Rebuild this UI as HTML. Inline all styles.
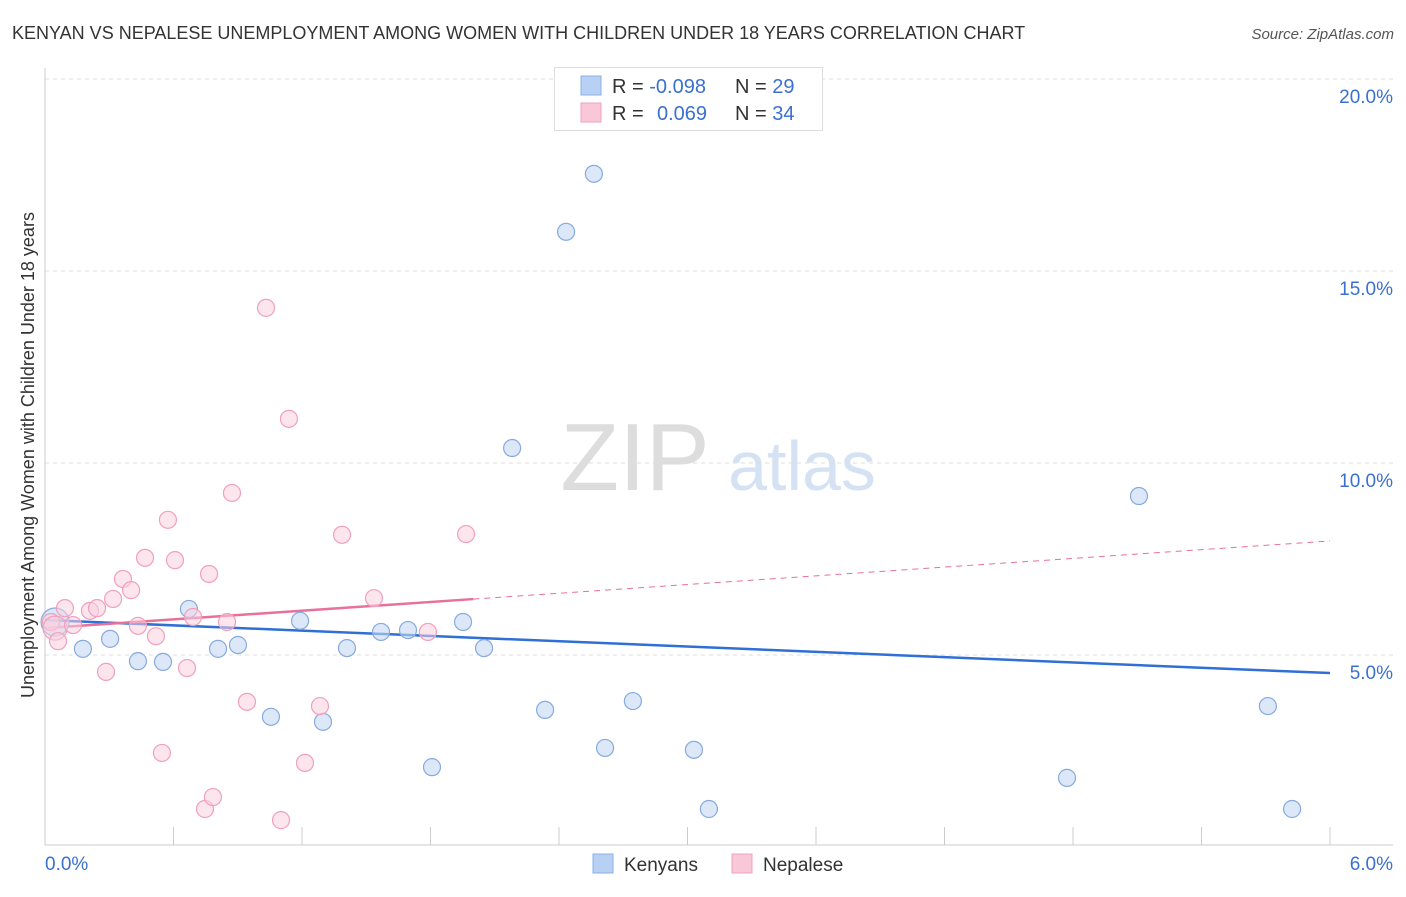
<!DOCTYPE html>
<html><head><meta charset="utf-8">
<style>
body{margin:0;background:#fff;font-family:"Liberation Sans",Arial,sans-serif;}
svg text{font-family:"Liberation Sans",Arial,sans-serif;}
</style></head>
<body>
<svg id="chart" width="1406" height="892" viewBox="0 0 1406 892" xmlns="http://www.w3.org/2000/svg">
<text x="12" y="39" font-size="18" fill="#333">KENYAN VS NEPALESE UNEMPLOYMENT AMONG WOMEN WITH CHILDREN UNDER 18 YEARS CORRELATION CHART</text>
<text x="1394" y="39" font-size="15" fill="#555" font-style="italic" text-anchor="end">Source: ZipAtlas.com</text>
<g>
<text x="635" y="490" font-size="96" fill="#ddd" text-anchor="middle" font-family="Liberation Serif,serif">ZIP</text>
<text x="802" y="490" font-size="70" fill="#d4e2f4" text-anchor="middle">atlas</text>
</g>
<g id="grid"></g>
<g id="axes"></g>
<g id="lines"></g>
<g id="points"></g>
<text transform="translate(34,455) rotate(-90)" font-size="18" fill="#333" text-anchor="middle">Unemployment Among Women with Children Under 18 years</text>
<g>
<rect x="554.5" y="67.5" width="268" height="63" fill="#fff" stroke="#ddd"/>
<rect x="581" y="76" width="20" height="19" fill="#b8d0f4" stroke="#8ab0e4"/>
<rect x="581" y="103" width="20" height="19" fill="#f9c8d8" stroke="#f0a0bc"/>
<text x="612" y="93" font-size="20" fill="#333">R = <tspan fill="#3a70d0">-0.098</tspan><tspan x="735">N = </tspan><tspan fill="#3a70d0">29</tspan></text>
<text x="612" y="120" font-size="20" fill="#333">R = <tspan x="657" fill="#3a70d0">0.069</tspan><tspan x="735">N = </tspan><tspan fill="#3a70d0">34</tspan></text>
</g>
<g>
<rect x="593" y="854" width="20" height="19" fill="#b8d0f4" stroke="#8ab0e4"/>
<text x="624" y="871" font-size="19" fill="#333">Kenyans</text>
<rect x="732" y="854" width="20" height="19" fill="#f9c8d8" stroke="#f0a0bc"/>
<text x="763" y="871" font-size="19" fill="#333">Nepalese</text>
</g>
</svg>
<script>
const blueX=[0.047,0.177,0.304,0.434,0.551,0.672,0.808,0.901,1.055,1.191,1.298,1.410,1.569,1.695,1.807,1.952,2.050,2.181,2.335,2.433,2.563,2.615,2.745,3.030,3.100,4.772,5.108,5.710,5.823];
const blueY=[5.86,5.16,5.42,4.84,4.82,6.20,5.16,5.26,3.39,5.89,3.26,5.18,5.60,5.65,2.08,5.86,5.18,10.39,3.57,16.02,17.53,2.58,3.80,2.53,0.99,1.80,9.14,3.67,0.99];
const pinkX=[0.028,0.047,0.061,0.093,0.131,0.210,0.243,0.285,0.318,0.364,0.402,0.434,0.467,0.518,0.546,0.574,0.607,0.663,0.691,0.747,0.766,0.784,0.850,0.873,0.943,1.032,1.102,1.139,1.214,1.284,1.387,1.536,1.788,1.966];
const pinkY=[5.86,5.70,5.36,6.22,5.78,6.15,6.22,4.56,6.46,6.98,6.69,5.76,7.53,5.49,2.45,8.52,7.47,4.66,5.99,0.99,7.11,1.30,5.86,9.22,3.78,14.04,0.70,11.15,2.19,3.67,8.13,6.48,5.60,8.15];
const blueTrend=[5.91,4.53];
const pinkTrend=[5.70,7.97];
const pinkSolidEnd=2.0;
const yTicks=[5,10,15,20];
const yTickLabels=["5.0%","10.0%","15.0%","20.0%"];
const xTickLabels=["0.0%","6.0%"];
const NS="http://www.w3.org/2000/svg";
const X=v=>45+v/6*1285;
const Y=v=>847-v/5*192;
function mk(tag,attrs,parent){const e=document.createElementNS(NS,tag);for(const k in attrs)e.setAttribute(k,attrs[k]);document.getElementById(parent).appendChild(e);return e;}
yTicks.forEach((t,i)=>{
 const l=mk('line',{x1:45,x2:1393,y1:Y(t),y2:Y(t),stroke:'#ddd','stroke-dasharray':'4,4'},'grid');
 
 
 const tx=mk('text',{x:1393,y:Y(t)+24,'font-size':19,fill:'#3a70d0','text-anchor':'end'},'grid');
 tx.textContent=yTickLabels[i];
 
 
});
let a=mk('line',{x1:45,x2:45,y1:68,y2:845,stroke:'#ccc'},'axes');


a=mk('line',{x1:45,x2:1393,y1:845,y2:845,stroke:'#ccc'},'axes');


for(let i=0;i<=10;i++){const t=mk('line',{x1:X(i*0.6),x2:X(i*0.6),y1:827,y2:845,stroke:'#ccc'},'axes');
 
 }
[[0,'start',45],[6,'end',1393]].forEach((d,i)=>{const t=mk('text',{x:d[2],y:870,'font-size':19,fill:'#3a70d0','text-anchor':d[1]},'axes');t.textContent=xTickLabels[i];
 
 });
const py=x=>pinkTrend[0]+(pinkTrend[1]-pinkTrend[0])*x/6;
let l=mk('line',{x1:X(0),y1:Y(blueTrend[0]),x2:X(6),y2:Y(blueTrend[1]),stroke:'#2f6fd6','stroke-width':2.5},'lines');


l=mk('line',{x1:X(0),y1:Y(py(0)),x2:X(pinkSolidEnd),y2:Y(py(pinkSolidEnd)),stroke:'#e8709a','stroke-width':2.5},'lines');


l=mk('line',{x1:X(pinkSolidEnd),y1:Y(py(pinkSolidEnd)),x2:X(6),y2:Y(py(6)),stroke:'#e8709a','stroke-width':1,'stroke-dasharray':'6,5'},'lines');


blueX.forEach((x,i)=>{const c=mk('circle',{cx:X(x),cy:Y(blueY[i]),r:i==0?14:8.5,fill:'#c4d8f4','fill-opacity':0.6,stroke:'#86aae0','stroke-width':1.2},'points');
 
 });
pinkX.forEach((x,i)=>{const c=mk('circle',{cx:X(x),cy:Y(pinkY[i]),r:i==1?12:8.5,fill:'#fad0de','fill-opacity':0.55,stroke:'#f0a0bc','stroke-width':1.2},'points');
 
 });
</script>
</body></html>
